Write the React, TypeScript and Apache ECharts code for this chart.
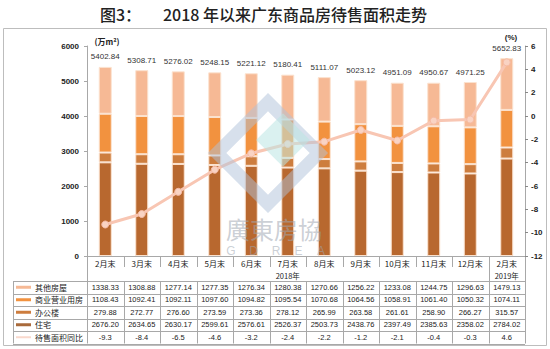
import React, { useEffect, useRef } from "react";
import * as echarts from "echarts";

const categories = ["2月末", "3月末", "4月末", "5月末", "6月末", "7月末", "8月末", "9月末", "10月末", "11月末", "12月末", "2月末"];
const other = [1338.33, 1308.88, 1277.14, 1277.35, 1276.34, 1280.38, 1270.66, 1256.22, 1233.08, 1244.75, 1296.63, 1479.13];
const commercial = [1108.43, 1092.41, 1092.11, 1097.6, 1094.82, 1095.54, 1070.68, 1064.56, 1058.91, 1061.4, 1050.32, 1074.11];
const office = [279.88, 272.77, 276.6, 273.59, 273.36, 278.12, 265.99, 263.58, 261.61, 258.9, 266.27, 315.57];
const residential = [2676.2, 2634.65, 2630.17, 2599.61, 2576.61, 2526.37, 2503.73, 2438.76, 2397.49, 2385.63, 2358.02, 2784.02];
const yoy = [-9.3, -8.4, -6.5, -4.6, -3.2, -2.4, -2.2, -1.2, -2.1, -0.4, -0.3, 4.6];
const totals = [5402.84, 5308.71, 5276.02, 5248.15, 5221.12, 5180.41, 5111.07, 5023.12, 4951.09, 4950.67, 4971.25, 5652.83];
const yearLabels = ["2018年", "2019年"];

const seriesNames = ["其他房屋", "商业营业用房", "办公楼", "住宅", "待售面积同比"];

const C_OTHER = "#F6B995";
const C_COMM = "#F2923F";
const C_OFFICE = "#CD7D3E";
const C_RES = "#B8682F";
const C_LINE = "#F8C6B3";

const GL = 87;
const GW = 438;
const GT = 46;
const GH = 210;
const COLW = GW / 12;
const AXY = GT + GH; // 256
const HDR_B = 281;
const ROWH = 12.5;
const TBL_L = 13;

const NUM_FONT = "Liberation Sans, Arial, sans-serif";
const CJK_FONT = "Noto Sans CJK SC, sans-serif";

export default function App() {
  const ref = useRef<HTMLDivElement>(null);
  useEffect(() => {
    const chart = echarts.init(ref.current!, null, { renderer: "svg" });

    const rows: { name: string; data: number[]; color: string; fmt: (v: number) => string; lw: number }[] = [
      { name: seriesNames[0], data: other, color: C_OTHER, fmt: (v) => v.toFixed(2), lw: 3 },
      { name: seriesNames[1], data: commercial, color: C_COMM, fmt: (v) => v.toFixed(2), lw: 3 },
      { name: seriesNames[2], data: office, color: C_OFFICE, fmt: (v) => v.toFixed(2), lw: 3 },
      { name: seriesNames[3], data: residential, color: "#A96A3B", fmt: (v) => v.toFixed(2), lw: 3 },
      { name: seriesNames[4], data: yoy, color: "#F9D8CC", fmt: (v) => v.toFixed(1), lw: 2 },
    ];

    const tableAxes = rows.map((r, k) => ({
      type: "category",
      gridIndex: 0,
      position: "bottom",
      offset: HDR_B + ROWH * (k + 0.5) - AXY,
      data: categories,
      axisLine: { show: false },
      axisTick: { show: false },
      splitLine: { show: false },
      axisLabel: {
        interval: 0,
        margin: 0,
        verticalAlign: "middle",
        fontSize: 7.5,
        fontFamily: NUM_FONT,
        color: "#222",
        formatter: (_v: string, i: number) => r.fmt(r.data[i]),
      },
    }));

    const lines: any[] = [];
    const ln = (x1: number, y1: number, x2: number, y2: number, color = "#A8A8A8") =>
      lines.push({ type: "line", silent: true, shape: { x1, y1, x2, y2 }, style: { stroke: color, lineWidth: 1 } });
    const tblB = HDR_B + ROWH * 5;
    for (let k = 0; k <= 5; k++) {
      const y = Math.round(HDR_B + ROWH * k) + 0.5;
      ln(TBL_L, y, GL + GW, y);
    }
    ln(TBL_L + 0.5, HDR_B, TBL_L + 0.5, tblB);
    ln(GL + 0.5, AXY, GL + 0.5, tblB);
    ln(GL + GW + 0.5, AXY, GL + GW + 0.5, tblB);
    for (let k = 1; k < 12; k++) {
      const x = Math.round(GL + COLW * k) + 0.5;
      if (k === 11) ln(x, AXY, x, tblB);
      else {
        ln(x, AXY, x, AXY + 11);
        ln(x, HDR_B, x, tblB);
      }
    }

    const legendItems: any[] = [];
    rows.forEach((r, k) => {
      const y = HDR_B + ROWH * (k + 0.5);
      legendItems.push({
        type: "line",
        silent: true,
        shape: { x1: 16, y1: y, x2: 31, y2: y },
        style: { stroke: r.color, lineWidth: r.lw },
      });
      legendItems.push({
        type: "text",
        silent: true,
        x: 35,
        y,
        style: { text: r.name, fontSize: 8, fontFamily: CJK_FONT, fill: "#222", textAlign: "left", textVerticalAlign: "middle" },
      });
    });

    const watermark = [
      {
        type: "rect",
        silent: true,
        z: 100,
        x: 268,
        y: 153,
        rotation: Math.PI / 4,
        shape: { x: -36, y: -36, width: 72, height: 72 },
        style: { fill: "none", stroke: "#AFC1D9", lineWidth: 13, opacity: 0.5 },
      },
      {
        type: "rect",
        silent: true,
        z: 100,
        x: 283,
        y: 140,
        rotation: Math.PI / 4,
        shape: { x: -19, y: -19, width: 38, height: 38 },
        style: { fill: "#BCE6E4", opacity: 0.55 },
      },
      {
        type: "text",
        silent: true,
        z: 100,
        x: 274,
        y: 228,
        style: { text: "廣東房協", fontSize: 24, fontFamily: CJK_FONT, fill: "#9FA7B2", opacity: 0.55, textAlign: "center", textVerticalAlign: "middle" },
      },
      ...["G", "D", "R", "E", "A"].map((ch, i) => ({
        type: "text",
        silent: true,
        z: 100,
        x: 231 + 22.5 * i,
        y: 251,
        style: { text: ch, fontSize: 12, fontFamily: NUM_FONT, fill: "#9FA7B2", opacity: 0.55, textAlign: "center", textVerticalAlign: "middle" },
      })),
    ];

    const barBase = { type: "bar", stack: "total", barWidth: 13, xAxisIndex: 0, yAxisIndex: 0 };
    const barBorder = { borderColor: "#FBE2CF", borderWidth: 1 };

    chart.setOption({
      animation: false,
      backgroundColor: "#fff",
      textStyle: { fontFamily: NUM_FONT },
      grid: { left: GL, top: GT, width: GW, height: GH },
      xAxis: [
        {
          type: "category",
          data: categories,
          axisLine: { show: true, lineStyle: { color: "#A8A8A8", width: 1 } },
          axisTick: { show: false },
          axisLabel: {
            interval: 0,
            margin: 7,
            verticalAlign: "middle",
            fontSize: 8,
            fontFamily: CJK_FONT,
            color: "#222",
          },
        },
        ...tableAxes,
      ],
      yAxis: [
        {
          type: "value",
          min: 0,
          max: 6000,
          interval: 1000,
          axisLine: { show: true, lineStyle: { color: "#A8A8A8" } },
          axisTick: { show: true, length: 3, lineStyle: { color: "#A8A8A8" } },
          splitLine: { show: false },
          axisLabel: { fontSize: 8, fontWeight: "bold", color: "#222", margin: 8, formatter: (v: number) => String(v) },
        },
        {
          type: "value",
          min: -12,
          max: 6,
          interval: 2,
          position: "right",
          axisLine: { show: true, lineStyle: { color: "#A8A8A8" } },
          axisTick: { show: true, length: 3, lineStyle: { color: "#888" } },
          splitLine: { show: false },
          axisLabel: { fontSize: 8, fontWeight: "bold", color: "#222", margin: 6, formatter: (v: number) => String(v) },
        },
      ],
      series: [
        { ...barBase, name: seriesNames[3], data: residential, itemStyle: { color: C_RES, ...barBorder } },
        { ...barBase, name: seriesNames[2], data: office, itemStyle: { color: C_OFFICE, ...barBorder } },
        { ...barBase, name: seriesNames[1], data: commercial, itemStyle: { color: C_COMM, ...barBorder } },
        {
          ...barBase,
          name: seriesNames[0],
          data: other,
          itemStyle: { color: C_OTHER, ...barBorder },
          label: {
            show: true,
            position: "top",
            distance: 6,
            fontSize: 8,
            color: "#333",
            fontFamily: NUM_FONT,
            formatter: (p: any) => totals[p.dataIndex].toFixed(2),
          },
        },
        {
          type: "line",
          name: seriesNames[4],
          xAxisIndex: 0,
          yAxisIndex: 1,
          data: yoy,
          symbol: "circle",
          symbolSize: 7,
          z: 5,
          lineStyle: { color: C_LINE, width: 3 },
          itemStyle: { color: "#F9D3C3", borderColor: "#F6BBA5", borderWidth: 1 },
        },
      ],
      graphic: [
        {
          type: "rect",
          silent: true,
          shape: { x: 3.5, y: 28.5, width: 543, height: 317 },
          style: { fill: "none", stroke: "#BDBDBD", lineWidth: 1 },
        },
        {
          type: "text",
          x: 100,
          y: 14,
          style: { text: "图3：", fontSize: 16, fontWeight: 500, fontFamily: CJK_FONT, fill: "#222", textAlign: "left", textVerticalAlign: "middle" },
        },
        {
          type: "text",
          x: 163,
          y: 14,
          style: { text: "2018 年以来广东商品房待售面积走势", fontSize: 16, fontWeight: 500, fontFamily: CJK_FONT, fill: "#222", textAlign: "left", textVerticalAlign: "middle" },
        },
        {
          type: "text",
          x: 107,
          y: 41,
          style: { text: "(万m²)", fontSize: 8, fontWeight: "bold", fontFamily: CJK_FONT, fill: "#222", textAlign: "center", textVerticalAlign: "middle" },
        },
        {
          type: "text",
          x: 511,
          y: 37,
          style: { text: "(%)", fontSize: 8, fontWeight: "bold", fontFamily: NUM_FONT, fill: "#222", textAlign: "center", textVerticalAlign: "middle" },
        },
        {
          type: "text",
          x: GL + COLW * 5.5,
          y: 275,
          style: { text: yearLabels[0], fontSize: 7.5, fontFamily: CJK_FONT, fill: "#222", textAlign: "center", textVerticalAlign: "middle" },
        },
        {
          type: "text",
          x: GL + COLW * 11.5,
          y: 275,
          style: { text: yearLabels[1], fontSize: 7.5, fontFamily: CJK_FONT, fill: "#222", textAlign: "center", textVerticalAlign: "middle" },
        },
        ...lines,
        ...legendItems,
        ...watermark,
      ],
    });
    return () => chart.dispose();
  }, []);
  return <div ref={ref} style={{ width: 550, height: 349, position: "absolute", left: 0, top: 0 }} />;
}
